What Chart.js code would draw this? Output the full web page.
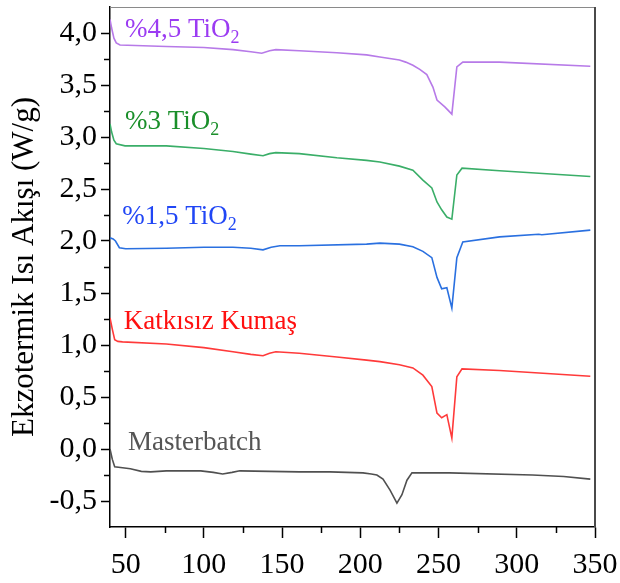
<!DOCTYPE html>
<html>
<head>
<meta charset="utf-8">
<script src="https://cdn.jsdelivr.net/npm/chart.js@4.4.1/dist/chart.umd.min.js"></script>
<style>
  html, body { margin: 0; padding: 0; background: #fff; }
  canvas { display: block; }
</style>
</head>
<body>
<canvas id="dsc" width="620" height="583"></canvas>
<script>
// temperatures (°C) and heat flow (W/g)
const tempPurple = [40, 41, 42.5, 44, 46.4, 76, 100, 118.6, 130, 137, 142, 146, 161, 185, 204, 212.5, 225, 229, 233.6, 238, 242.5, 246.4, 249, 254, 258.5, 261.7, 265.5, 289, 347]
const flowPurple = [4.13, 4.05, 3.95, 3.905, 3.885, 3.87, 3.86, 3.84, 3.82, 3.805, 3.83, 3.84, 3.83, 3.81, 3.79, 3.77, 3.74, 3.72, 3.69, 3.65, 3.60, 3.48, 3.355, 3.29, 3.22, 3.675, 3.72, 3.72, 3.68]

const tempGreen = [40, 41, 42.5, 44, 49.6, 76, 100, 118.6, 130, 137.8, 142, 146, 161, 185, 204, 212.5, 225, 233.6, 240, 245.7, 249, 252, 255.3, 258.5, 261.7, 265, 289, 347]
const flowGreen = [3.125, 3.05, 2.97, 2.935, 2.915, 2.915, 2.89, 2.86, 2.835, 2.82, 2.84, 2.85, 2.84, 2.80, 2.775, 2.76, 2.72, 2.68, 2.585, 2.51, 2.375, 2.30, 2.23, 2.21, 2.635, 2.70, 2.675, 2.62]

const tempBlue = [40, 42, 43.5, 46, 50, 76, 100, 118.6, 130, 137.8, 143, 148.6, 161, 204, 212.5, 225, 233.6, 240, 245.7, 249, 252, 255.3, 258.5, 261.7, 265.5, 289, 314, 316, 347]
const flowBlue = [2.03, 2.02, 2.0, 1.935, 1.925, 1.93, 1.94, 1.94, 1.93, 1.915, 1.94, 1.955, 1.955, 1.97, 1.98, 1.97, 1.945, 1.90, 1.84, 1.65, 1.54, 1.55, 1.355, 1.84, 1.99, 2.04, 2.065, 2.06, 2.105]

const tempRed = [40, 41.5, 43, 45, 48, 76, 100, 118.6, 130, 137.8, 142, 146, 161, 185, 204, 212.5, 225, 233.6, 240, 245.7, 249, 252, 255.3, 258.5, 261.7, 265, 289, 347]
const flowRed = [1.26, 1.15, 1.05, 1.035, 1.03, 1.01, 0.975, 0.935, 0.91, 0.897, 0.92, 0.935, 0.92, 0.885, 0.855, 0.84, 0.81, 0.78, 0.71, 0.60, 0.345, 0.30, 0.33, 0.105, 0.695, 0.77, 0.755, 0.70]

const tempGray = [40, 41.5, 43, 48, 53, 60, 66, 76, 98, 106, 112, 118, 123, 161, 180.6, 201.7, 207, 210.6, 214.5, 219, 223.4, 226.6, 229.8, 233, 257, 310, 330, 347]
const flowGray = [0.0, -0.1, -0.17, -0.18, -0.19, -0.215, -0.22, -0.21, -0.21, -0.225, -0.24, -0.225, -0.21, -0.22, -0.22, -0.23, -0.24, -0.25, -0.29, -0.395, -0.52, -0.44, -0.30, -0.23, -0.23, -0.25, -0.265, -0.29]

const xTicks = [50, 100, 150, 200, 250, 300, 350]
const yTicks = [-0.5, 0, 0.5, 1, 1.5, 2, 2.5, 3, 3.5, 4]
const xMinor = [75, 125, 175, 225, 275, 325]
const yMinor = [-0.25, 0.25, 0.75, 1.25, 1.75, 2.25, 2.75, 3.25, 3.75]

const seriesNames = ['%4,5 TiO', '%3 TiO', '%1,5 TiO', 'Katkısız Kumaş', 'Masterbatch']

const FONT = "'Liberation Serif', 'Times New Roman', serif"

const toPoints = (xs, ys) => xs.map((x, i) => ({ x: x, y: ys[i] }))

const makeSet = (label, xs, ys, color) => ({
    label: label,
    data: toPoints(xs, ys),
    borderColor: color,
    backgroundColor: color,
    borderWidth: 1.6,
    pointRadius: 0,
    tension: 0,
    fill: false,
})

// in-plot labels, anchored in data coordinates
const labelSpots = [
    { text: seriesNames[0], sub: '2', x: 49.6, y: 4.03, color: '#9b3bf2' },
    { text: seriesNames[1], sub: '2', x: 49.6, y: 3.145, color: '#1a8f2a' },
    { text: seriesNames[2], sub: '2', x: 47.8, y: 2.23, color: '#2046f5' },
    { text: seriesNames[3], sub: '', x: 48.8, y: 1.22, color: '#ff1010' },
    { text: seriesNames[4], sub: '', x: 51.5, y: 0.06, color: '#555555' },
]

const decor = {
    id: 'decor',
    afterDatasetsDraw(chart) {
        const ctx = chart.ctx
        const xs = chart.scales.x
        const ys = chart.scales.y
        const a = chart.chartArea
        ctx.save()

        // top and right frame
        ctx.strokeStyle = '#8a8a8a'
        ctx.lineWidth = 1
        ctx.beginPath()
        ctx.moveTo(a.left, a.top + 0.5)
        ctx.lineTo(a.right, a.top + 0.5)
        ctx.stroke()
        ctx.strokeStyle = '#4a4a4a'
        ctx.lineWidth = 2
        ctx.beginPath()
        ctx.moveTo(a.right, a.top)
        ctx.lineTo(a.right, a.bottom)
        ctx.stroke()

        // minor ticks
        ctx.strokeStyle = '#000'
        ctx.lineWidth = 1.5
        xMinor.forEach(v => {
            const px = Math.round(xs.getPixelForValue(v)) + 0.5
            ctx.beginPath()
            ctx.moveTo(px, a.bottom)
            ctx.lineTo(px, a.bottom + 6)
            ctx.stroke()
        })
        yMinor.forEach(v => {
            const py = Math.round(ys.getPixelForValue(v)) + 0.5
            ctx.beginPath()
            ctx.moveTo(a.left, py)
            ctx.lineTo(a.left - 6, py)
            ctx.stroke()
        })

        // series labels
        ctx.textBaseline = 'middle'
        ctx.textAlign = 'left'
        labelSpots.forEach(l => {
            const px = xs.getPixelForValue(l.x)
            const py = ys.getPixelForValue(l.y)
            ctx.fillStyle = l.color
            ctx.font = '27px ' + FONT
            ctx.fillText(l.text, px, py)
            if (l.sub) {
                const w = ctx.measureText(l.text).width
                ctx.font = '18px ' + FONT
                ctx.fillText(l.sub, px + w, py + 8)
            }
        })
        ctx.restore()
    }
}

const ctx = document.getElementById('dsc')

new Chart(ctx, {
    type: 'line',
    data: {
        datasets: [
            makeSet('%4,5 TiO2', tempPurple, flowPurple, '#b77ae8'),
            makeSet('%3 TiO2', tempGreen, flowGreen, '#3aae68'),
            makeSet('%1,5 TiO2', tempBlue, flowBlue, '#2a70e0'),
            makeSet('Katkısız Kumaş', tempRed, flowRed, '#ff3a3a'),
            makeSet('Masterbatch', tempGray, flowGray, '#505050'),
        ]
    },
    options: {
        responsive: false,
        animation: false,
        layout: { padding: { top: 7, right: 25, left: 0, bottom: 0 } },
        plugins: {
            legend: { display: false },
            tooltip: { enabled: false },
        },
        scales: {
            x: {
                type: 'linear',
                min: 40,
                max: 350,
                afterBuildTicks: (scale) => { scale.ticks = xTicks.map(v => ({ value: v })) },
                afterFit: (scale) => {
                    scale.height = 56
                    scale.paddingLeft = 0
                    scale.paddingRight = 0
                },
                ticks: {
                    color: '#000',
                    font: { family: FONT, size: 30 },
                    padding: 9,
                    maxRotation: 0,
                    autoSkip: false,
                    callback: (v) => String(v),
                },
                grid: { drawOnChartArea: false, drawTicks: true, tickLength: 11, tickColor: '#000', tickWidth: 1.5 },
                border: { color: '#000', width: 1.5 },
            },
            y: {
                type: 'linear',
                min: -0.75,
                max: 4.25,
                afterBuildTicks: (scale) => { scale.ticks = yTicks.map(v => ({ value: v })) },
                afterFit: (scale) => {
                    scale.width = 110
                    scale.paddingTop = 0
                    scale.paddingBottom = 0
                },
                ticks: {
                    color: '#000',
                    font: { family: FONT, size: 30 },
                    padding: 4,
                    autoSkip: false,
                    callback: (v) => v.toFixed(1).replace('.', ','),
                },
                grid: { drawOnChartArea: false, drawTicks: true, tickLength: 9, tickColor: '#000', tickWidth: 1.5 },
                border: { color: '#000', width: 1.5 },
                title: {
                    display: true,
                    text: 'Ekzotermik Isı Akışı (W/g)',
                    color: '#000',
                    font: { family: FONT, size: 31 },
                    padding: { top: 6, bottom: 0 },
                },
            },
        },
    },
    plugins: [decor],
})
</script>
</body>
</html>
